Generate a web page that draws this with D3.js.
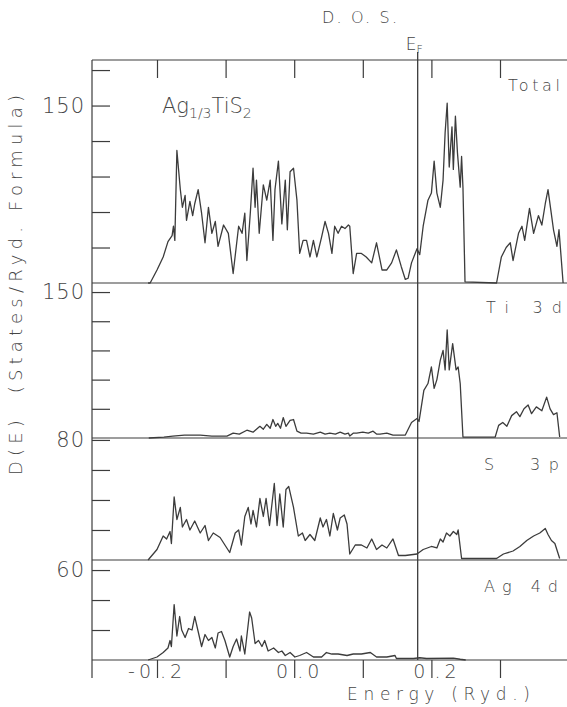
<!DOCTYPE html>
<html>
<head>
<meta charset="utf-8">
<script src="https://cdn.jsdelivr.net/npm/d3@7"></script>
<style>
body { margin: 0; background: #fff; }
svg { display: block; }
text { font-family: "DejaVu Sans", sans-serif; fill: #454545; font-weight: 200; }
</style>
</head>
<body>
<div id="chart"></div>
<script>
// density of states, [energy (Ryd), D(E)]
var totalDos = [[-0.213,0],[-0.210,0],[-0.200,11],[-0.191,22],[-0.184,35],[-0.178,40],[-0.176,48],[-0.174,36],[-0.171,112],[-0.166,79],[-0.163,64],[-0.159,74],[-0.157,53],[-0.152,69],[-0.148,57],[-0.145,67],[-0.140,79],[-0.135,59],[-0.130,34],[-0.125,64],[-0.120,42],[-0.115,52],[-0.111,31],[-0.103,49],[-0.096,42],[-0.089,8],[-0.081,48],[-0.076,42],[-0.072,59],[-0.069,19],[-0.064,59],[-0.060,97],[-0.057,64],[-0.055,87],[-0.051,42],[-0.045,83],[-0.040,70],[-0.035,87],[-0.031,36],[-0.028,79],[-0.023,103],[-0.018,50],[-0.013,87],[-0.010,45],[-0.006,94],[-0.001,97],[0.004,70],[0.008,25],[0.013,36],[0.018,36],[0.023,22],[0.028,36],[0.033,22],[0.040,39],[0.045,52],[0.050,42],[0.055,25],[0.059,48],[0.064,42],[0.069,48],[0.074,46],[0.079,49],[0.081,48],[0.086,8],[0.091,25],[0.098,25],[0.105,22],[0.113,17],[0.120,34],[0.128,11],[0.135,11],[0.142,17],[0.149,28],[0.156,14],[0.162,3],[0.166,4],[0.171,17],[0.179,29],[0.183,24],[0.188,48],[0.195,70],[0.200,76],[0.204,103],[0.208,76],[0.213,64],[0.217,87],[0.220,127],[0.223,152],[0.226,98],[0.230,132],[0.232,96],[0.235,141],[0.238,110],[0.242,81],[0.244,107],[0.246,81],[0.249,1],[0.295,0],[0.302,22],[0.309,30],[0.315,34],[0.319,19],[0.327,42],[0.332,48],[0.336,36],[0.343,63],[0.349,42],[0.356,57],[0.361,49],[0.366,67],[0.370,79],[0.374,62],[0.378,45],[0.383,31],[0.386,45],[0.392,0]];

var ti3d = [[-0.212,0],[-0.190,1],[-0.177,2],[-0.160,3],[-0.137,3],[-0.120,2],[-0.098,2],[-0.089,5],[-0.080,4],[-0.069,8],[-0.060,6],[-0.050,12],[-0.045,9],[-0.040,14],[-0.035,10],[-0.031,19],[-0.027,12],[-0.024,15],[-0.020,10],[-0.016,21],[-0.012,12],[-0.006,18],[-0.001,19],[0.004,7],[0.010,5],[0.018,5],[0.028,4],[0.038,6],[0.045,4],[0.052,5],[0.060,4],[0.067,6],[0.074,4],[0.079,5],[0.081,2],[0.086,5],[0.091,5],[0.100,6],[0.108,5],[0.115,7],[0.120,4],[0.125,4],[0.135,5],[0.144,3],[0.154,3],[0.162,3],[0.171,16],[0.179,20],[0.182,17],[0.189,49],[0.195,56],[0.200,73],[0.204,51],[0.208,60],[0.213,80],[0.217,90],[0.220,70],[0.223,111],[0.226,70],[0.231,97],[0.236,70],[0.239,73],[0.242,56],[0.246,1],[0.293,1],[0.298,13],[0.304,16],[0.310,12],[0.317,23],[0.324,27],[0.329,22],[0.335,30],[0.341,34],[0.346,25],[0.353,32],[0.361,28],[0.368,42],[0.373,30],[0.378,24],[0.383,26],[0.387,1]];

var s3p = [[-0.213,0],[-0.200,7],[-0.191,16],[-0.186,14],[-0.181,19],[-0.179,11],[-0.175,42],[-0.171,27],[-0.166,35],[-0.163,22],[-0.157,27],[-0.152,20],[-0.145,26],[-0.137,18],[-0.130,23],[-0.125,13],[-0.118,18],[-0.108,15],[-0.094,5],[-0.086,18],[-0.081,20],[-0.077,10],[-0.072,29],[-0.067,35],[-0.063,24],[-0.060,33],[-0.055,22],[-0.050,41],[-0.045,29],[-0.041,41],[-0.036,23],[-0.029,51],[-0.025,23],[-0.021,44],[-0.016,22],[-0.012,47],[-0.008,49],[-0.001,35],[0.006,16],[0.012,18],[0.016,13],[0.023,17],[0.030,13],[0.038,28],[0.042,22],[0.047,27],[0.052,16],[0.057,31],[0.063,20],[0.067,28],[0.073,30],[0.077,24],[0.081,4],[0.089,10],[0.098,10],[0.106,8],[0.113,14],[0.120,7],[0.128,10],[0.135,8],[0.144,14],[0.152,3],[0.162,3],[0.179,4],[0.188,7],[0.200,9],[0.208,8],[0.213,14],[0.217,12],[0.222,18],[0.227,16],[0.232,19],[0.237,17],[0.239,20],[0.244,1],[0.295,1],[0.305,4],[0.319,6],[0.329,9],[0.339,13],[0.349,16],[0.358,18],[0.366,21],[0.370,17],[0.375,13],[0.380,11],[0.387,1]];

var ag4d = [[-0.213,0],[-0.200,2],[-0.191,5],[-0.184,8],[-0.181,13],[-0.179,9],[-0.175,37],[-0.171,16],[-0.167,29],[-0.164,20],[-0.159,15],[-0.154,21],[-0.149,20],[-0.145,29],[-0.140,19],[-0.135,9],[-0.130,17],[-0.125,13],[-0.120,15],[-0.115,8],[-0.111,18],[-0.106,19],[-0.101,13],[-0.094,2],[-0.089,9],[-0.084,14],[-0.079,6],[-0.077,16],[-0.072,4],[-0.065,32],[-0.062,28],[-0.057,11],[-0.052,13],[-0.047,9],[-0.043,13],[-0.038,6],[-0.030,8],[-0.023,5],[-0.018,6],[-0.013,3],[-0.006,5],[0.001,2],[0.008,3],[0.018,5],[0.028,2],[0.040,2],[0.047,5],[0.055,4],[0.064,4],[0.077,3],[0.086,4],[0.098,4],[0.111,5],[0.120,2],[0.135,2],[0.147,3],[0.149,1],[0.174,1],[0.183,1.5],[0.193,1],[0.232,1.3],[0.242,0.5],[0.250,0]];

var panelNames = ["Total", "Ti 3d", "S  3p", "Ag 4d"];
var panelSeries = [totalDos, ti3d, s3p, ag4d];
var panelTicks = [[30, 60, 90, 120, 150, 180], [30, 60, 90, 120, 150], [20, 40, 60, 80], [20, 40, 60]];
var panelTopLabel = [150, 150, 80, 60];
var panelMax = [188.5, 159.3, 81.3, 66.7];

var energyTicks = [-0.2, -0.1, 0.0, 0.1, 0.2, 0.3];
var energyLabels = [[-0.2, "-0", ".2"], [0.0, "0", ".0"], [0.2, "0", ".2"]];
var fermiEnergy = 0.18;

var width = 567, height = 707;
var frameLeft = 92, frameTop = 60, frameRight = 567;
var bands = [[60, 283], [283, 438], [438, 560], [560, 660]];
var nameBox = [[508, 91, 52], [486, 313, 76], [484, 470, 75], [484, 592, 74]];

var svg = d3.select("#chart").append("svg")
  .attr("width", width).attr("height", height);

var x = d3.scaleLinear().domain([-0.2, 0.3]).range([157, 500]);
var ink = "#3c3c3c";

// frame: left and top lines
svg.append("line").attr("x1", frameLeft).attr("y1", frameTop).attr("x2", frameLeft).attr("y2", 678)
  .attr("stroke", ink).attr("stroke-width", 1.2);
svg.append("line").attr("x1", frameLeft).attr("y1", frameTop).attr("x2", frameRight).attr("y2", frameTop)
  .attr("stroke", ink).attr("stroke-width", 1.2);

// top ticks (inward)
svg.append("g").attr("transform", "translate(0," + frameTop + ")")
  .call(d3.axisTop(x).tickValues(energyTicks).tickSize(-18).tickFormat(""))
  .call(function(g) { g.select(".domain").remove(); g.selectAll("line").attr("stroke", ink).attr("stroke-width", 1.2); });

panelSeries.forEach(function(series, i) {
  var y = d3.scaleLinear().domain([0, panelMax[i]]).range([bands[i][1], bands[i][0]]);

  // baseline of the panel
  svg.append("line").attr("x1", frameLeft).attr("x2", frameRight)
    .attr("y1", bands[i][1]).attr("y2", bands[i][1])
    .attr("stroke", ink).attr("stroke-width", 1.2);

  var ax = svg.append("g").attr("transform", "translate(" + frameLeft + ",0)")
    .call(d3.axisLeft(y).tickValues(panelTicks[i]).tickSize(-18).tickPadding(7)
      .tickFormat(function(d) { return d === panelTopLabel[i] ? d : ""; }));
  ax.select(".domain").remove();
  ax.selectAll("line").attr("stroke", ink).attr("stroke-width", 1.2);
  ax.selectAll("text").attr("font-size", 21).attr("font-family", "DejaVu Sans").attr("fill", "#454545")
    .attr("font-weight", 200).attr("letter-spacing", 1);

  var line = d3.line().x(function(d) { return x(d[0]); }).y(function(d) { return y(d[1]); });
  svg.append("path").datum(series).attr("d", line)
    .attr("fill", "none").attr("stroke", ink).attr("stroke-width", 1.3)
    .attr("stroke-linejoin", "round");

  svg.append("text").attr("x", nameBox[i][0]).attr("y", nameBox[i][1])
    .attr("font-size", 16).attr("textLength", nameBox[i][2]).attr("lengthAdjust", "spacing")
    .attr("xml:space", "preserve").style("white-space", "pre")
    .text(panelNames[i]);
});

// bottom ticks (outward) and split labels
svg.append("g").attr("transform", "translate(0," + bands[3][1] + ")")
  .call(d3.axisBottom(x).tickValues(energyTicks).tickSize(18).tickFormat(""))
  .call(function(g) { g.select(".domain").remove(); g.selectAll("line").attr("stroke", ink).attr("stroke-width", 1.2); });

energyLabels.forEach(function(d) {
  svg.append("text").attr("x", x(d[0]) - 2).attr("y", 678).attr("text-anchor", "end")
    .attr("font-size", 19).attr("letter-spacing", 4).text(d[1]);
  svg.append("text").attr("x", x(d[0]) + 3).attr("y", 678).attr("text-anchor", "start")
    .attr("font-size", 19).attr("letter-spacing", 4).text(d[2]);
});

// Fermi level
svg.append("line").attr("x1", x(fermiEnergy)).attr("x2", x(fermiEnergy))
  .attr("y1", 52).attr("y2", bands[3][1])
  .attr("stroke", ink).attr("stroke-width", 1.3);
var ef = svg.append("text").attr("x", x(fermiEnergy) - 12).attr("y", 50).attr("font-size", 17);
ef.append("tspan").text("E");
ef.append("tspan").attr("font-size", 11).attr("dy", 3).text("F");

// titles
svg.append("text").attr("x", 322).attr("y", 23).attr("font-size", 16)
  .attr("textLength", 75).attr("lengthAdjust", "spacing").text("D. O. S.");

var comp = svg.append("text").attr("x", 162).attr("y", 113).attr("font-size", 21).attr("font-weight", 400);
comp.append("tspan").text("Ag");
comp.append("tspan").attr("font-size", 14).attr("dy", 5).text("1/3");
comp.append("tspan").attr("dy", -5).text("TiS");
comp.append("tspan").attr("font-size", 14).attr("dy", 5).text("2");

svg.append("text").attr("x", 347).attr("y", 700).attr("font-size", 17)
  .attr("textLength", 183).attr("lengthAdjust", "spacing").text("Energy (Ryd.)");

svg.append("text").attr("transform", "translate(22,475) rotate(-90)")
  .attr("font-size", 18).attr("textLength", 380).attr("lengthAdjust", "spacing")
  .attr("xml:space", "preserve").style("white-space", "pre")
  .text("D(E)  (States/Ryd. Formula)");
</script>
</body>
</html>
